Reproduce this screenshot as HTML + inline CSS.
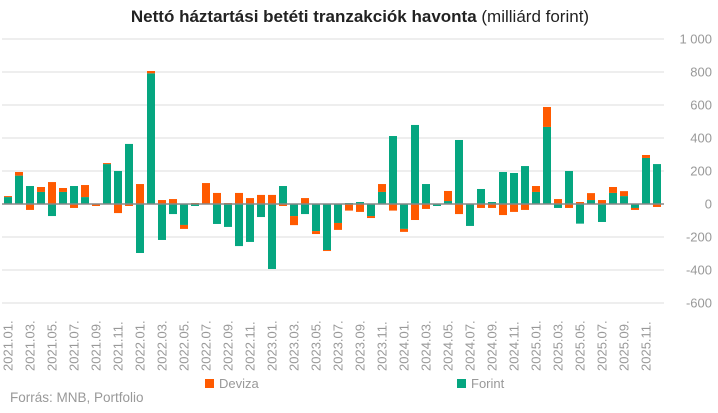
<!DOCTYPE html>
<html><head><meta charset="utf-8"><style>
body{margin:0;background:#fff;width:718px;height:408px;overflow:hidden;font-family:"Liberation Sans",sans-serif}
</style></head><body>
<svg width="718" height="408" xmlns="http://www.w3.org/2000/svg" font-family="Liberation Sans, sans-serif">
<text x="360" y="22" text-anchor="middle" font-size="17" fill="#222"><tspan font-weight="bold">Nettó háztartási betéti tranzakciók havonta</tspan> (milliárd forint)</text>
<g id="grid" stroke="#dcdcdc" stroke-width="1"></g>
<g id="yl" font-size="13" fill="#999" text-anchor="end"></g>
<g id="bars"></g>
<line x1="2" y1="204" x2="664" y2="204" stroke="#888" stroke-width="1.5"/>
<g id="xl" font-size="13" fill="#999"></g>
<rect x="205" y="379" width="9" height="9" fill="#ff5a00"/>
<text x="219" y="388" font-size="13" fill="#999">Deviza</text>
<rect x="457" y="379" width="9" height="9" fill="#05a680"/>
<text x="471" y="388" font-size="13" fill="#999">Forint</text>
<text x="10" y="402" font-size="13.5" fill="#999">Forrás: MNB, Portfolio</text>
</svg>
<script>
const F=[42,172,109,73,-73,73,109,42,0,242,200,364,-297,792,-218,-61,-127,-12,0,-121,-139,-255,-230,-79,-394,109,-73,-61,-164,-279,-115,6,12,-73,73,412,-151,479,121,-12,18,388,-133,91,12,194,188,230,73,467,-24,200,-119,24,-109,67,48,-24,279,242];
const D=[6,22,-36,30,133,24,-24,73,-12,6,-55,-12,121,14,24,30,-24,6,127,67,6,67,36,55,55,-12,-55,36,-18,-6,-42,-40,-48,-12,48,-40,-18,-97,-30,0,61,-61,0,-24,-24,-67,-48,-36,36,121,30,-24,12,42,24,36,30,-12,18,-18];
const ns="http://www.w3.org/2000/svg",k=0.165,z=204;
function el(p,t,a,tx){const e=document.createElementNS(ns,t);for(const i in a)e.setAttribute(i,a[i]);if(tx)e.textContent=tx;document.getElementById(p).appendChild(e);}
const lab={1000:"1 000",800:"800",600:"600",400:"400",200:"200",0:"0","-200":"-200","-400":"-400","-600":"-600"};
for(let v=-600;v<=1000;v+=200){const y=z-v*k;if(v!==0)el("grid","line",{x1:2,x2:664,y1:y,y2:y});el("yl","text",{x:712,y:y+4.5},lab[v]);}
for(let i=0;i<60;i++){const x=4+i*11;let pos=0,neg=0;
 [[F[i],"#05a680"],[D[i],"#ff5a00"]].forEach(([v,c])=>{if(v>=0){el("bars","rect",{x:x,y:z-(pos+v)*k,width:8,height:v*k,fill:c});pos+=v;}else{el("bars","rect",{x:x,y:z-neg*k,width:8,height:-v*k,fill:c});neg+=v;}});
 if(i%2===0){const y=2021+Math.floor(i/12),m=i%12+1;const cx=x+4+4.5;el("xl","text",{x:0,y:0,transform:`translate(${cx},371) rotate(-90)`},y+"."+(m<10?"0":"")+m+".");}
}
</script>
</body></html>
